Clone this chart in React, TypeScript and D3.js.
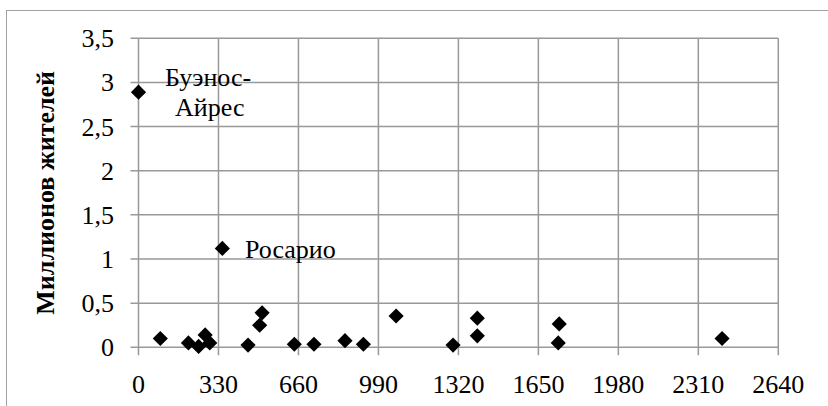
import React, { useEffect, useRef } from "react";
import * as d3 from "d3";

const distances = [0, 346, 90, 206, 248, 275, 294, 452, 500, 510, 643, 724, 852, 928, 1063, 1298, 1398, 1398, 1736, 1732, 2408];
const populations = [2.89, 1.12, 0.1, 0.05, 0.01, 0.14, 0.05, 0.025, 0.25, 0.39, 0.035, 0.035, 0.075, 0.035, 0.355, 0.025, 0.33, 0.13, 0.265, 0.05, 0.1];
const pointLabels = [["Буэнос-", "Айрес"], ["Росарио"]];
const xTicks = [0, 330, 660, 990, 1320, 1650, 1980, 2310, 2640];
const yTicks = [0, 0.5, 1, 1.5, 2, 2.5, 3, 3.5];
const yTitle = "Миллионов жителей";

const W = 828;
const H = 406;
const plot = { left: 138.5, right: 778.3, top: 38.3, bottom: 347.3 };
const gridColor = "#999999";
const FONT = "Times New Roman";

export default function App() {
  const ref = useRef<SVGSVGElement>(null);

  useEffect(() => {
    const svg = d3.select(ref.current);
    svg.selectAll("*").remove();
    const x = d3.scaleLinear().domain([0, 2640]).range([plot.left, plot.right]);
    const y = d3.scaleLinear().domain([0, 3.5]).range([plot.bottom, plot.top]);
    const fmt = (v: number) => String(v).replace(".", ",");
    const diamond = d3.symbol().type(d3.symbolSquare).size(115)();

    svg.append("rect").attr("x", 6.5).attr("y", 10.5).attr("width", W + 10).attr("height", H + 10)
      .attr("fill", "#fff").attr("stroke", "#a0a0a0").attr("stroke-width", 1);

    svg.selectAll(".gy").data(yTicks).join("line").attr("class", "gy")
      .attr("x1", plot.left - 8).attr("x2", plot.right).attr("y1", (d) => y(d)).attr("y2", (d) => y(d))
      .attr("stroke", gridColor).attr("stroke-width", 1.5);
    svg.selectAll(".gx").data(xTicks).join("line").attr("class", "gx")
      .attr("x1", (d) => x(d)).attr("x2", (d) => x(d)).attr("y1", plot.top).attr("y2", plot.bottom + 8)
      .attr("stroke", gridColor).attr("stroke-width", 1.5);

    const txt = (sel: any) => sel.style("font-family", FONT).style("font-size", "26px").attr("fill", "#000");

    svg.selectAll(".ty").data(yTicks).join("text").attr("class", "ty")
      .attr("x", 114).attr("y", (d) => y(d) + 9).attr("text-anchor", "end").text(fmt).call(txt);
    svg.selectAll(".tx").data(xTicks).join("text").attr("class", "tx")
      .attr("x", (d) => x(d)).attr("y", 393).attr("text-anchor", "middle").text(fmt).call(txt);

    svg.append("text")
      .attr("transform", `translate(54,${(plot.top + plot.bottom) / 2}) rotate(-90)`)
      .attr("text-anchor", "middle").style("font-weight", "bold").text(yTitle).call(txt);

    svg.selectAll(".pt").data(distances).join("path").attr("class", "pt")
      .attr("d", diamond)
      .attr("transform", (d, i) => `translate(${x(d)},${y(populations[i])}) rotate(45)`)
      .attr("fill", "#000");

    svg.append("text").attr("x", 165).attr("y", 86).text(pointLabels[0][0]).call(txt);
    svg.append("text").attr("x", 175).attr("y", 116).text(pointLabels[0][1]).call(txt);
    svg.append("text").attr("x", 245).attr("y", 258).text(pointLabels[1][0]).call(txt);
  }, []);

  return (
    <svg ref={ref} width={W} height={H} style={{ position: "absolute", left: 0, top: 0, background: "#fff" }} />
  );
}
